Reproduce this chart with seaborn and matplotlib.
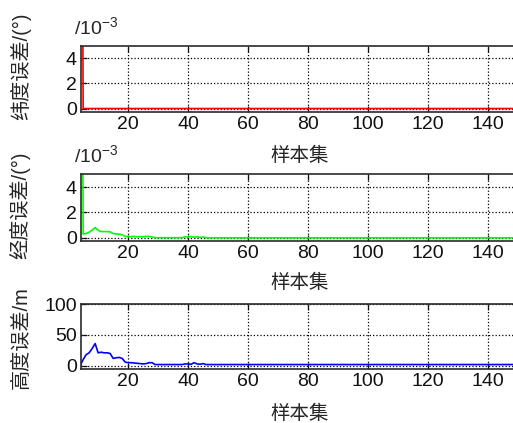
import numpy as np
import pandas as pd
import matplotlib
matplotlib.use("Agg")
import matplotlib.pyplot as plt
import seaborn as sns

# sample index (x axis)
samples = list(range(4, 151))

# latitude error, unit 1e-3 deg
lat_err = [
    60.0, 0, 0, 0, 0, 0, 0, 0, 0, 0,
    0, 0, 0, 0, 0, 0, 0, 0, 0, 0,
    0, 0, 0, 0, 0, 0, 0, 0, 0, 0,
    0, 0, 0, 0, 0, 0, 0, 0, 0, 0,
    0, 0, 0, 0, 0, 0, 0, 0, 0, 0,
    0, 0, 0, 0, 0, 0, 0, 0, 0, 0,
    0, 0, 0, 0, 0, 0, 0, 0, 0, 0,
    0, 0, 0, 0, 0, 0, 0, 0, 0, 0,
    0, 0, 0, 0, 0, 0, 0, 0, 0, 0,
    0, 0, 0, 0, 0, 0, 0, 0, 0, 0,
    0, 0, 0, 0, 0, 0, 0, 0, 0, 0,
    0, 0, 0, 0, 0, 0, 0, 0, 0, 0,
    0, 0, 0, 0, 0, 0, 0, 0, 0, 0,
    0, 0, 0, 0, 0, 0, 0, 0, 0, 0,
    0, 0, 0, 0, 0, 0, 0,
]

# longitude error, unit 1e-3 deg
lon_err = [
    60.0, 0.30, 0.35, 0.45, 0.60, 0.82, 0.60, 0.50, 0.50, 0.50,
    0.48, 0.35, 0.32, 0.30, 0.25, 0.13, 0.10, 0.10, 0.12, 0.08,
    0.10, 0.08, 0.12, 0.12, 0.08, 0.02, 0.02, 0.02, 0.02, 0.02,
    0.02, 0.02, 0.02, 0.02, 0.02, 0.10, 0.05, 0.12, 0.04, 0.10,
    0.03, 0.08, 0.02, 0.01, 0.01, 0.01, 0.01, 0.01, 0.01, 0.01,
    0.01, 0.01, 0.01, 0.01, 0.01, 0.01, 0.01, 0.01, 0.01, 0.01,
    0.01, 0.01, 0.01, 0.01, 0.01, 0.01, 0.01, 0.01, 0.01, 0.01,
    0.01, 0.01, 0.01, 0.01, 0.01, 0.01, 0.01, 0.01, 0.01, 0.01,
    0.01, 0.01, 0.01, 0.01, 0.01, 0.01, 0.01, 0.01, 0.01, 0.01,
    0.01, 0.01, 0.01, 0.01, 0.01, 0.01, 0.01, 0.01, 0.01, 0.01,
    0.01, 0.01, 0.01, 0.01, 0.01, 0.01, 0.01, 0.01, 0.01, 0.01,
    0.01, 0.01, 0.01, 0.01, 0.01, 0.01, 0.01, 0.01, 0.01, 0.01,
    0.01, 0.01, 0.01, 0.01, 0.01, 0.01, 0.01, 0.01, 0.01, 0.01,
    0.01, 0.01, 0.01, 0.01, 0.01, 0.01, 0.01, 0.01, 0.01, 0.01,
    0.01, 0.01, 0.01, 0.01, 0.01, 0.01, 0.01,
]

# height error, m
alt_err = [
    0, 10, 18, 21, 28, 36, 21, 22, 21, 21,
    20, 12, 13, 13.5, 12, 6, 5, 5, 4.5, 4,
    3.5, 3, 3.5, 5, 5, 2, 2, 2, 2, 2,
    2, 2, 2, 2, 2, 3, 3, 2.5, 5, 3,
    2.5, 3.5, 2, 2, 2, 2, 2, 2, 2, 2,
    2, 2, 2, 2, 2, 2, 2, 2, 2, 2,
    2, 2, 2, 2, 2, 2, 2, 2, 2, 2,
    2, 2, 2, 2, 2, 2, 2, 2, 2, 2,
    2, 2, 2, 2, 2, 2, 2, 2, 2, 2,
    2, 2, 2, 2, 2, 2, 2, 2, 2, 2,
    2, 2, 2, 2, 2, 2, 2, 2, 2, 2,
    2, 2, 2, 2, 2, 2, 2, 2, 2, 2,
    2, 2, 2, 2, 2, 2, 2, 2, 2, 2,
    2, 2, 2, 2, 2, 2, 2, 2, 2, 2,
    2, 2, 2, 2, 2, 2, 2,
]

ylabels = ["纬度误差/(°)", "经度误差/(°)", "高度误差/m"]
xlabel = "样本集"
colors = ["#ff0000", "#00ff00", "#0000ff"]

df = pd.DataFrame({"sample": samples, "lat": lat_err, "lon": lon_err, "alt": alt_err})

sns.set_style("ticks")
plt.rcParams["font.family"] = ["Liberation Sans", "Noto Sans CJK SC", "DejaVu Sans"]
plt.rcParams["mathtext.default"] = "regular"
plt.rcParams["axes.unicode_minus"] = False

fig = plt.figure(figsize=(5.13, 4.23), dpi=100)

# left, bottom, width, height (axes run past the right edge like the original)
boxes = [
    [0.158, 0.736, 0.852, 0.156],
    [0.158, 0.430, 0.852, 0.158],
    [0.158, 0.128, 0.852, 0.153],
]
cols = ["lat", "lon", "alt"]
ylims = [(-0.25, 5), (-0.25, 5), (-5, 100)]
yticks = [[0, 2, 4], [0, 2, 4], [0, 50, 100]]
ylab_y = [0.69, 0.54, 0.49]
xlab_y = [-0.535, -0.495, -0.55]

for i in range(3):
    ax = fig.add_axes(boxes[i])
    sns.lineplot(data=df, x="sample", y=cols[i], color=colors[i], lw=1.2, ax=ax)
    ax.set_xlim(4.3, 150)
    ax.set_ylim(*ylims[i])
    ax.set_xticks([20, 40, 60, 80, 100, 120, 140])
    ax.set_yticks(yticks[i])
    ax.grid(True, linestyle=":", color="black", linewidth=0.9)
    ax.tick_params(direction="in", length=4, width=0.9, top=True, right=True,
                   labelsize=14, colors="#111111", pad=3)
    for s in ax.spines.values():
        s.set_color("#2a2a2a")
        s.set_linewidth(1.2)
    ax.set_ylabel(ylabels[i], fontsize=14.5)
    ax.yaxis.set_label_coords(-0.115, ylab_y[i])
    ax.set_xlabel(xlabel, fontsize=14)
    ax.xaxis.set_label_coords(0.5, xlab_y[i])
    if i < 2:
        ax.text(-0.016, 1.12, "/10$^{-3}$", transform=ax.transAxes,
                fontsize=14, ha="left", va="bottom")

fig.savefig("out.png", dpi=100)
